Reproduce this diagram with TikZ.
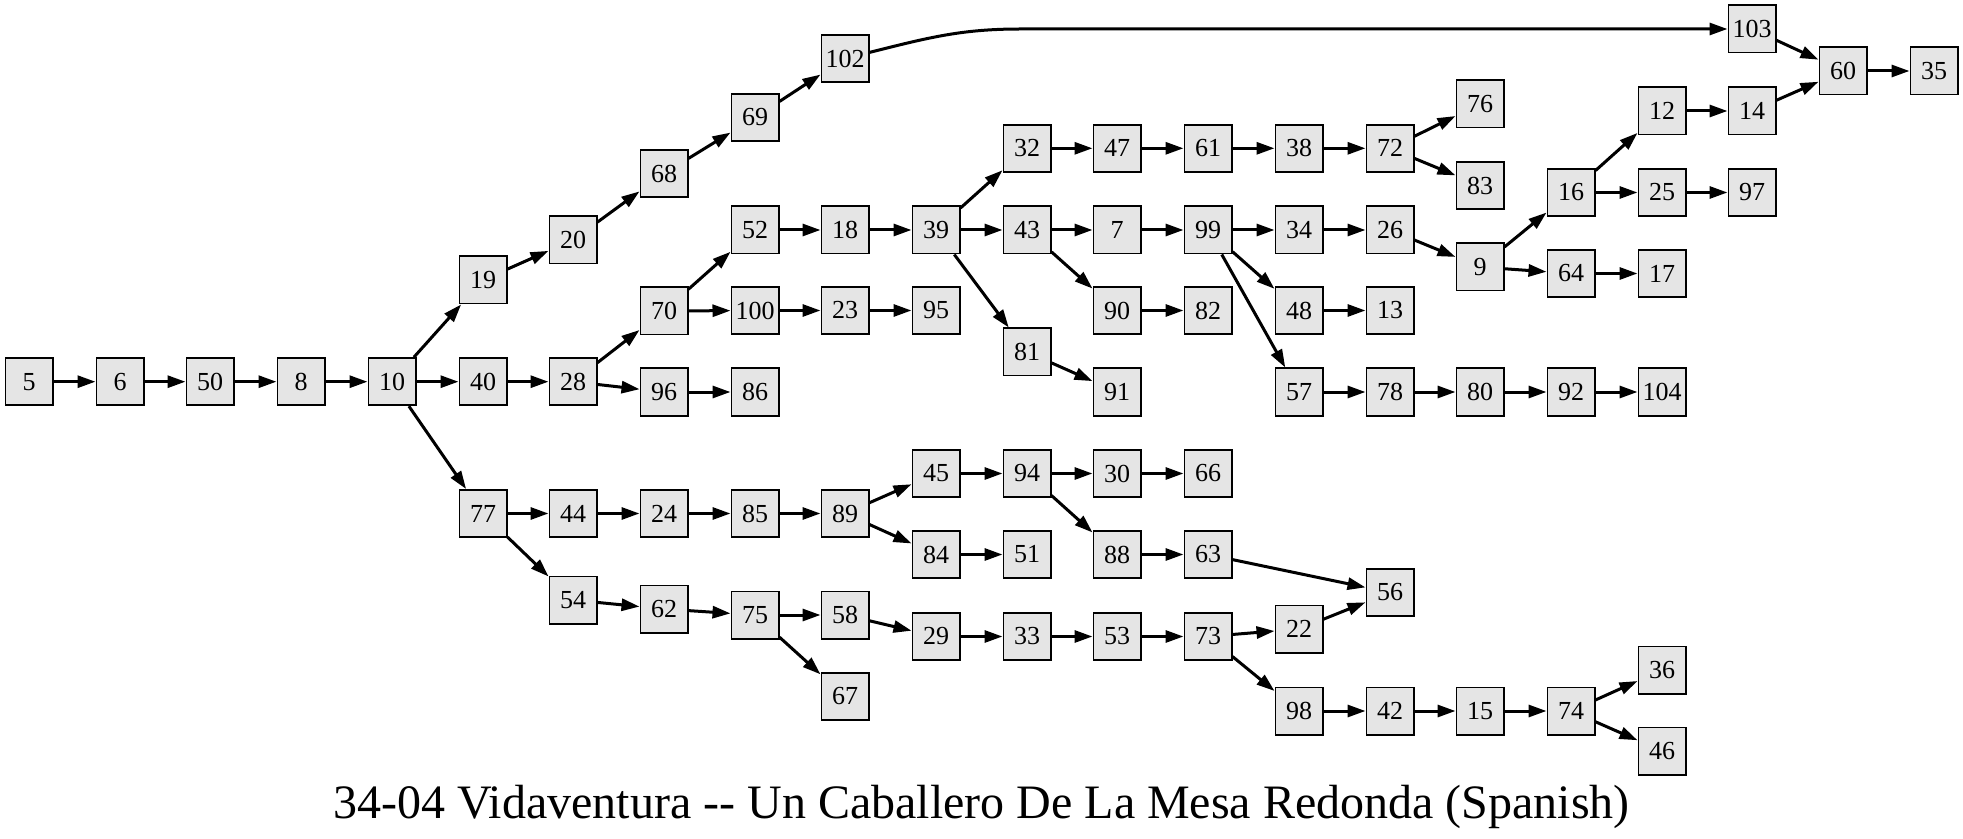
\documentclass[tikz,border=0pt]{standalone}
\usepackage{fontspec}
\setmainfont{Liberation Serif}
\usepackage{xcolor}
\usetikzlibrary{arrows.meta}
\definecolor{boxgray}{RGB}{229,229,229}

\begin{document}
\begin{tikzpicture}[
  x=0.5pt, y=-0.5pt,
  every node/.style={font=\rmfamily\fontsize{13}{13}\selectfont},
  box/.style={rectangle, draw, line width=0.9pt, fill=boxgray,
              minimum width=23.6pt, minimum height=23.6pt, inner sep=0pt},
  link/.style={-{Triangle[length=9pt,width=6pt]}, line width=1.5pt},
]
  \useasboundingbox (0,0) rectangle (1963,839);

  % main spine
  \node[box] (n5) at (29,381.7) {5};
  \node[box] (n6) at (120,381.7) {6};
  \node[box] (n50) at (210,381.7) {50};
  \node[box] (n8) at (301,381.7) {8};
  \node[box] (n10) at (392,381.7) {10};
  \node[box] (n19) at (483,280) {19};
  \node[box] (n40) at (483,381.7) {40};
  \node[box] (n77) at (483,513.5) {77};
  \node[box] (n20) at (573,240) {20};
  \node[box] (n28) at (573,381.7) {28};
  \node[box] (n44) at (573,513.5) {44};
  \node[box] (n54) at (573,600) {54};
  \node[box] (n68) at (664,173.5) {68};
  \node[box] (n70) at (664,311) {70};
  \node[box] (n96) at (664,392) {96};
  \node[box] (n24) at (664,513.5) {24};
  \node[box] (n62) at (664,609) {62};

  % upper branches
  \node[box] (n69) at (755,117.5) {69};
  \node[box] (n52) at (755,230) {52};
  \node[box] (n100) at (755,310.5) {100};
  \node[box] (n86) at (755,392) {86};
  \node[box] (n102) at (845,58.5) {102};
  \node[box] (n18) at (845,230) {18};
  \node[box] (n23) at (845,310.5) {23};
  \node[box] (n39) at (936,230) {39};
  \node[box] (n95) at (936,310.5) {95};
  \node[box] (n32) at (1027,148.3) {32};
  \node[box] (n43) at (1027,230) {43};
  \node[box] (n81) at (1027,352) {81};
  \node[box] (n47) at (1117,148.3) {47};
  \node[box] (n7) at (1117,230) {7};
  \node[box] (n90) at (1117,310.5) {90};
  \node[box] (n91) at (1117,392) {91};
  \node[box] (n61) at (1208,148.3) {61};
  \node[box] (n99) at (1208,230) {99};
  \node[box] (n82) at (1208,310.5) {82};
  \node[box] (n38) at (1299,148.3) {38};
  \node[box] (n34) at (1299,230) {34};
  \node[box] (n48) at (1299,310.5) {48};
  \node[box] (n57) at (1299,392) {57};
  \node[box] (n72) at (1390,148.3) {72};
  \node[box] (n26) at (1390,230) {26};
  \node[box] (n13) at (1390,310.5) {13};
  \node[box] (n78) at (1390,392) {78};
  \node[box] (n76) at (1480,104) {76};
  \node[box] (n83) at (1480,185.5) {83};
  \node[box] (n9) at (1480,267) {9};
  \node[box] (n80) at (1480,392) {80};
  \node[box] (n16) at (1571,192.5) {16};
  \node[box] (n64) at (1571,273.5) {64};
  \node[box] (n92) at (1571,392) {92};
  \node[box] (n12) at (1662,111) {12};
  \node[box] (n25) at (1662,192.5) {25};
  \node[box] (n17) at (1662,273.5) {17};
  \node[box] (n104) at (1662,392) {104};
  \node[box] (n103) at (1752,29) {103};
  \node[box] (n14) at (1752,111) {14};
  \node[box] (n97) at (1752,192.5) {97};
  \node[box] (n60) at (1843,71) {60};
  \node[box] (n35) at (1934,71) {35};
  \coordinate (bend) at (1020,29);

  % lower branches
  \node[box] (n85) at (755,513.5) {85};
  \node[box] (n75) at (755,615) {75};
  \node[box] (n89) at (845,513.5) {89};
  \node[box] (n58) at (845,615) {58};
  \node[box] (n67) at (845,696.5) {67};
  \node[box] (n45) at (936,473.5) {45};
  \node[box] (n84) at (936,554.5) {84};
  \node[box] (n29) at (936,636.5) {29};
  \node[box] (n94) at (1027,473.5) {94};
  \node[box] (n51) at (1027,554.5) {51};
  \node[box] (n33) at (1027,636.5) {33};
  \node[box] (n30) at (1117,473.5) {30};
  \node[box] (n88) at (1117,554.5) {88};
  \node[box] (n53) at (1117,636.5) {53};
  \node[box] (n66) at (1208,473.5) {66};
  \node[box] (n63) at (1208,554.5) {63};
  \node[box] (n73) at (1208,636.5) {73};
  \node[box] (n22) at (1299,629) {22};
  \node[box] (n98) at (1299,711) {98};
  \node[box] (n56) at (1390,592.5) {56};
  \node[box] (n42) at (1390,711) {42};
  \node[box] (n15) at (1480,711) {15};
  \node[box] (n74) at (1571,711) {74};
  \node[box] (n36) at (1662,670) {36};
  \node[box] (n46) at (1662,751) {46};

  \node[anchor=base, font=\rmfamily\fontsize{24}{24}\selectfont] (title) at (981.5,818)
    {34-04 Vidaventura -{}- Un Caballero De La Mesa Redonda (Spanish)};

  \draw[link] (n5) -- (n6);
  \draw[link] (n6) -- (n50);
  \draw[link] (n50) -- (n8);
  \draw[link] (n8) -- (n10);
  \draw[link] (n10) -- (n19);
  \draw[link] (n10) -- (n40);
  \draw[link] (n10) -- (n77);
  \draw[link] (n19) -- (n20);
  \draw[link] (n20) -- (n68);
  \draw[link] (n68) -- (n69);
  \draw[link] (n69) -- (n102);
  \draw[link] (n102) to[out=14,in=180] (bend) -- (n103);
  \draw[link] (n103) -- (n60);
  \draw[link] (n60) -- (n35);
  \draw[link] (n40) -- (n28);
  \draw[link] (n28) -- (n70);
  \draw[link] (n28) -- (n96);
  \draw[link] (n96) -- (n86);
  \draw[link] (n70) -- (n52);
  \draw[link] (n70) -- (n100);
  \draw[link] (n100) -- (n23);
  \draw[link] (n23) -- (n95);
  \draw[link] (n52) -- (n18);
  \draw[link] (n18) -- (n39);
  \draw[link] (n39) -- (n32);
  \draw[link] (n39) -- (n43);
  \draw[link] (n39) -- (n81);
  \draw[link] (n81) -- (n91);
  \draw[link] (n32) -- (n47);
  \draw[link] (n47) -- (n61);
  \draw[link] (n61) -- (n38);
  \draw[link] (n38) -- (n72);
  \draw[link] (n72) -- (n76);
  \draw[link] (n72) -- (n83);
  \draw[link] (n43) -- (n7);
  \draw[link] (n43) -- (n90);
  \draw[link] (n90) -- (n82);
  \draw[link] (n7) -- (n99);
  \draw[link] (n99) -- (n34);
  \draw[link] (n99) -- (n48);
  \draw[link] (n99) -- (n57);
  \draw[link] (n34) -- (n26);
  \draw[link] (n26) -- (n9);
  \draw[link] (n9) -- (n16);
  \draw[link] (n9) -- (n64);
  \draw[link] (n16) -- (n12);
  \draw[link] (n16) -- (n25);
  \draw[link] (n12) -- (n14);
  \draw[link] (n14) -- (n60);
  \draw[link] (n25) -- (n97);
  \draw[link] (n64) -- (n17);
  \draw[link] (n48) -- (n13);
  \draw[link] (n57) -- (n78);
  \draw[link] (n78) -- (n80);
  \draw[link] (n80) -- (n92);
  \draw[link] (n92) -- (n104);
  \draw[link] (n77) -- (n44);
  \draw[link] (n77) -- (n54);
  \draw[link] (n44) -- (n24);
  \draw[link] (n24) -- (n85);
  \draw[link] (n85) -- (n89);
  \draw[link] (n89) -- (n45);
  \draw[link] (n89) -- (n84);
  \draw[link] (n45) -- (n94);
  \draw[link] (n94) -- (n30);
  \draw[link] (n94) -- (n88);
  \draw[link] (n30) -- (n66);
  \draw[link] (n84) -- (n51);
  \draw[link] (n88) -- (n63);
  \draw[link] (n63) -- (n56);
  \draw[link] (n54) -- (n62);
  \draw[link] (n62) -- (n75);
  \draw[link] (n75) -- (n58);
  \draw[link] (n75) -- (n67);
  \draw[link] (n58) -- (n29);
  \draw[link] (n29) -- (n33);
  \draw[link] (n33) -- (n53);
  \draw[link] (n53) -- (n73);
  \draw[link] (n73) -- (n22);
  \draw[link] (n73) -- (n98);
  \draw[link] (n22) -- (n56);
  \draw[link] (n98) -- (n42);
  \draw[link] (n42) -- (n15);
  \draw[link] (n15) -- (n74);
  \draw[link] (n74) -- (n36);
  \draw[link] (n74) -- (n46);
\end{tikzpicture}
\end{document}
